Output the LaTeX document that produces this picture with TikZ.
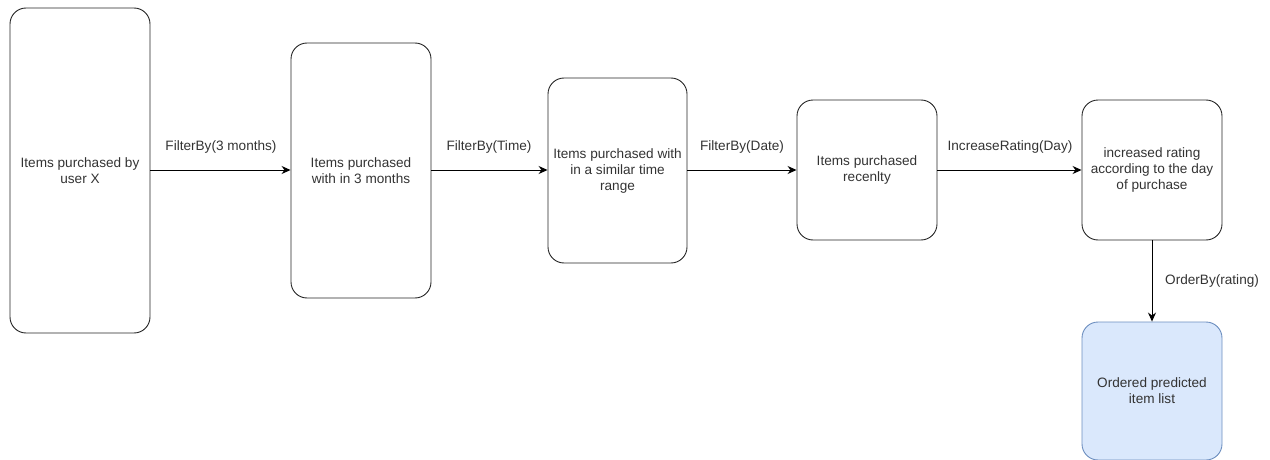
\documentclass[tikz,border=0pt]{standalone}
\usepackage{fontspec}
\setmainfont{Liberation Sans}
\usetikzlibrary{arrows.meta}
\definecolor{bluefill}{HTML}{DAE8FC}
\definecolor{blueline}{HTML}{6C8EBF}
\definecolor{txt}{HTML}{333333}
\tikzset{
  box/.style={draw=black!85, line width=0.9pt, rounded corners=16pt, align=center, text=txt,
    font=\fontsize{13.6}{16}\selectfont, inner sep=0pt},
  conn/.style={draw=black, line width=0.9pt, -{Stealth[length=9pt,width=8pt]}},
  lab/.style={text=txt, font=\fontsize{13.6}{16}\selectfont, inner sep=0pt}
}
\begin{document}
\begin{tikzpicture}[x=1pt,y=-1pt]
\useasboundingbox (0,0) rectangle (1270,460);
\node[box, minimum width=140pt, minimum height=325pt] (b1) at (80,170.5) {Items purchased by\\user X};
\node[box, minimum width=140pt, minimum height=255pt] (b2) at (361,170.5) {Items purchased\\with in 3 months};
\node[box, minimum width=139pt, minimum height=185pt] (b3) at (617.5,170.5) {Items purchased with\\in a similar time\\range};
\node[box, minimum width=140pt, minimum height=140pt] (b4) at (867,170) {Items purchased\\recenlty};
\node[box, minimum width=140pt, minimum height=140pt] (b5) at (1152,170) {increased rating\\according to the day\\of purchase};
\node[box, draw=blueline, fill=bluefill, minimum width=140pt, minimum height=138pt] (b6) at (1152,391) {Ordered predicted\\item list};
\draw[conn] (b1.east |- 0,170) -- (b2.west |- 0,170);
\draw[conn] (b2.east |- 0,170) -- (b3.west |- 0,170);
\draw[conn] (b3.east |- 0,170) -- (b4.west |- 0,170);
\draw[conn] (b4.east) -- (b5.west);
\draw[conn] (b5.south) -- (b6.north);
\node[lab] (l1) at (221,147) {FilterBy(3 months)};
\node[lab] (l2) at (489,147) {FilterBy(Time)};
\node[lab] (l3) at (742,147) {FilterBy(Date)};
\node[lab] (l4) at (1010,147) {IncreaseRating(Day)};
\node[lab, anchor=west] (l5) at (1165,281) {OrderBy(rating)};
\end{tikzpicture}
\end{document}
